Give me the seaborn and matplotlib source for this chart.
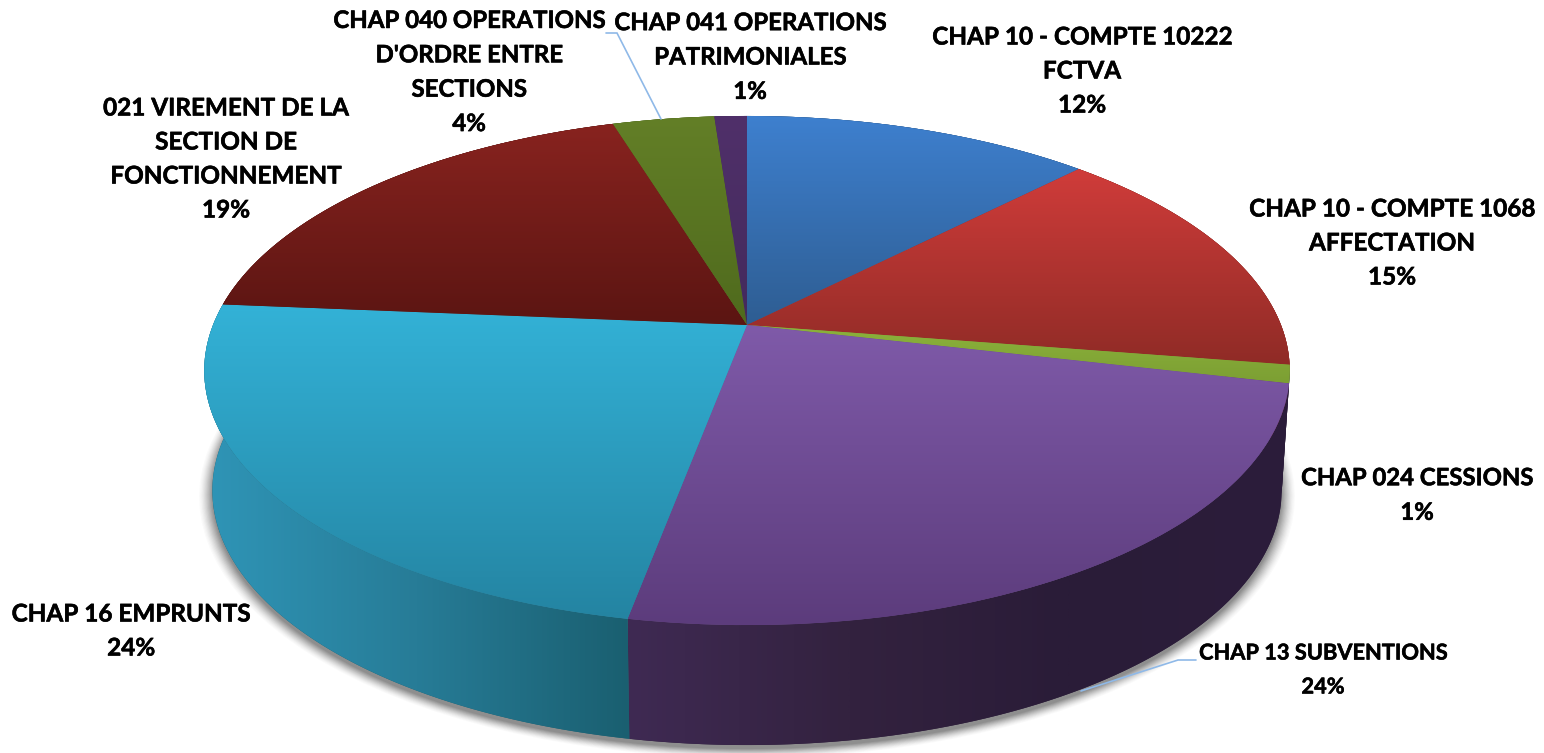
import numpy as np
import matplotlib
matplotlib.use("Agg")
import matplotlib.pyplot as plt
import matplotlib.patheffects as pe
import seaborn as sns
from matplotlib.patches import Circle, PathPatch
from matplotlib.path import Path
from matplotlib.transforms import Transform

# ---- data -----------------------------------------------------------------
categories = ["CHAP 10 - COMPTE 10222\nFCTVA",
              "CHAP 10 - COMPTE 1068\nAFFECTATION",
              "CHAP 024 CESSIONS",
              "CHAP 13 SUBVENTIONS",
              "CHAP 16 EMPRUNTS",
              "021 VIREMENT DE LA\nSECTION DE\nFONCTIONNEMENT",
              "CHAP 040 OPERATIONS\nD'ORDRE ENTRE\nSECTIONS",
              "CHAP 041 OPERATIONS\nPATRIMONIALES"]
shares = [12.35, 15.15, 1.15, 24.3, 23.4, 18.9, 3.6, 1.15]
percent_labels = ["12%", "15%", "1%", "24%", "24%", "19%", "4%", "1%"]

# ---- style ----------------------------------------------------------------
top_light = ["#3e80cf", "#d03c3a", "#8cb23b", "#7f5aa9", "#33b2d7", "#88231f", "#637f27", "#50306a"]
top_dark  = ["#2e5d92", "#8f2b26", "#7c9f33", "#5c3c7c", "#2484a2", "#5b1512", "#4f6a1d", "#432a5c"]
wall_stops = [["#2e5d92", "#2e5d92"], ["#8f2b26", "#8f2b26"], ["#2b1c39", "#2b1c39"],
              ["#3f2a53", "#33223f", "#2a1c38", "#2c1d3b"],
              ["#2f95b7", "#277c97", "#1a5f70"],
              ["#5b1512", "#5b1512"], ["#4f6a1d", "#4f6a1d"], ["#432a5c", "#432a5c"]]
label_xy = [(1082, 71), (1392, 243), (1417, 495), (1323, 670),
            (131, 631), (226, 159), (469, 72), (750, 57)]
label_size = [17.5, 17.5, 17.2, 15.7, 17.5, 17.5, 17.3, 17.3]
leaders = [[(606, 33), (617, 33), (661, 119)], [(1081, 691), (1178, 660), (1196, 660)]]

sns.set_theme(style="white")
plt.rcParams["font.family"] = ["Lato", "DejaVu Sans"]


class Projection(Transform):
    """Perspective view of the unit-circle pie, in pixel-like data units."""
    input_dims = output_dims = 2
    is_separable = False
    has_inverse = False

    def __init__(self, cx, cy, ax_, ay_, c):
        super().__init__()
        self.p = (cx, cy, ax_, ay_, c)

    def transform_non_affine(self, v):
        cx, cy, ax_, ay_, c = self.p
        v = np.asarray(v, float)
        w = 1 + c * v[:, 1]
        return np.column_stack([cx + ax_ * v[:, 0] / w, cy - ay_ * v[:, 1] / w])


top_proj = Projection(747, 325, 534, 246.4, 0.1788)
low_proj = Projection(747, 445, 526, 246.4, 0.1788)


def arc(t1, t2):
    t = np.radians(np.linspace(t1, t2, 200))
    return np.column_stack([np.cos(t), np.sin(t)])


fig = plt.figure(figsize=(15.44, 7.53), dpi=100)
ax = fig.add_axes([0, 0, 1, 1])
wedges, _ = ax.pie(shares, startangle=90, counterclock=False, radius=1, center=(0, 0))
ax.set_aspect("auto")
ax.set_axis_off()
ax.set_xlim(0, 1544)
ax.set_ylim(753, 0)
ax.set_autoscale_on(False)

# soft shadow under the pie
for grow, alpha in zip(np.linspace(1.024, 1.0, 12), np.linspace(0.018, 0.10, 12)):
    s = Circle((0, 0), grow, fc="#303030", ec="none", alpha=alpha, zorder=0.5,
               transform=Projection(747, 449, 526, 246.4, 0.1788) + ax.transData)
    ax.add_patch(s)

# side walls
for k, w in enumerate(wedges):
    a, b = w.theta1, w.theta2
    top = top_proj.transform(arc(a, b))
    low = low_proj.transform(arc(a, b))
    poly = Path(np.vstack([top, low[::-1], top[:1]]))
    cmap = sns.blend_palette(wall_stops[k], as_cmap=True)
    ax.add_patch(PathPatch(poly, fc=wall_stops[k][-1], ec="none", zorder=1))
    x0, x1 = poly.vertices[:, 0].min(), poly.vertices[:, 0].max()
    y0, y1 = poly.vertices[:, 1].min(), poly.vertices[:, 1].max()
    im = ax.imshow(np.linspace(0, 1, 512)[None, :], cmap=cmap, aspect="auto",
                   extent=(x0, x1, y1, y0), zorder=1.1, interpolation="bilinear")
    im.set_clip_path(poly, ax.transData)

# top faces
for k, w in enumerate(wedges):
    w.set_transform(top_proj + ax.transData)
    w.set_facecolor(top_dark[k])
    w.set_edgecolor("none")
    w.set_zorder(2)
    pts = np.vstack([[[0, 0]], arc(w.theta1, w.theta2), [[0, 0]]])
    poly = Path(top_proj.transform(pts))
    cmap = sns.blend_palette([top_light[k], top_dark[k]], as_cmap=True)
    x0, x1 = poly.vertices[:, 0].min(), poly.vertices[:, 0].max()
    y0, y1 = poly.vertices[:, 1].min(), poly.vertices[:, 1].max()
    im = ax.imshow(np.linspace(0, 1, 512)[:, None], cmap=cmap, aspect="auto",
                   extent=(x0, x1, y1, y0), origin="upper", zorder=2.1,
                   interpolation="bilinear")
    im.set_clip_path(poly, ax.transData)

for pts in leaders:
    xs, ys = zip(*pts)
    ax.plot(xs, ys, color="#8fb9e8", lw=1.2, zorder=3, solid_joinstyle="miter")

for name, pct, (x, y), size in zip(categories, percent_labels, label_xy, label_size):
    t = ax.text(x, y, f"{name}\n{pct}", ha="center", va="center", ma="center",
                fontsize=size, fontweight="bold", color="black",
                linespacing=1.58 * 17.5 / size, zorder=4)
    t.set_path_effects([pe.withStroke(linewidth=0.4, foreground="black")])

ax.set_xlim(0, 1544)
ax.set_ylim(753, 0)
fig.savefig("out.png", dpi=100, facecolor="white")
